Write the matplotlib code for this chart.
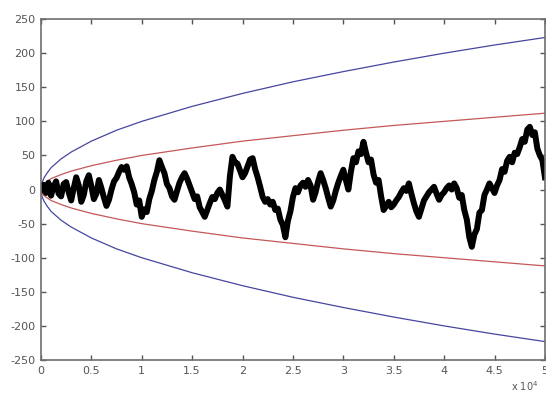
import matplotlib
matplotlib.use("Agg")
import matplotlib.pyplot as plt
import numpy as np

# random walk position, sampled every 250 steps
walk_step = 250
walk = [
    0, 7, -5, 10, -9, 4, 12, -6, -10, 8,
    11, -4, -16, 2, 18, 6, -18, -8, 12, 21,
    5, -14, -6, 14, 2, -12, -24, -15, 0, 12,
    17, 26, 33, 29, 34, 18, 8, -4, -22, -16,
    -40, -29, -33, -14, -2, 14, 26, 43, 33, 24,
    8, 2, -10, -15, -2, 10, 18, 24, 16, 6,
    -4, -14, -10, -26, -33, -40, -30, -20, -11, -14,
    -5, 0, -8, -16, -25, 20, 48, 40, 38, 28,
    18, 24, 34, 44, 46, 30, 18, 4, -11, -18,
    -14, -22, -18, -30, -28, -44, -52, -70, -46, -32,
    -11, 2, -4, 6, 10, 4, 14, 6, -15, -4,
    12, 24, 14, 2, -12, -25, -16, -2, 10, 20,
    29, 14, 0, 26, 46, 40, 56, 52, 70, 54,
    40, 44, 22, 10, 14, -10, -30, -24, -18, -26,
    -22, -16, -11, -4, 2, -2, 9, -6, -20, -32,
    -40, -28, -16, -10, -4, 0, 4, -6, -15, -8,
    -4, 2, 6, 0, 9, 2, -12, -8, -30, -44,
    -70, -84, -66, -58, -34, -30, -8, 0, 9, 2,
    -5, 6, 14, 30, 26, 42, 48, 40, 54, 52,
    62, 74, 70, 88, 92, 80, 84, 60, 50, 43,
    18,
]

# envelope curves (outer and inner)
env_x = [0, 100, 300, 600, 1000, 2000, 3000, 5000, 7500, 10000, 15000,
         20000, 25000, 30000, 35000, 40000, 45000, 50000]
outer = [0, 10, 17, 24, 32, 45, 55, 71, 87, 100, 122,
         141, 158, 173, 187, 200, 212, 223]
inner = [0, 5, 9, 12, 16, 22, 27, 35, 43, 50, 61,
         71, 79, 87, 94, 100, 106, 112]

xticks = [0, 5000, 10000, 15000, 20000, 25000, 30000, 35000, 40000, 45000, 50000]
xticklabels = ["0", "0.5", "1", "1.5", "2", "2.5", "3", "3.5", "4", "4.5", "5"]
yticks = [-250, -200, -150, -100, -50, 0, 50, 100, 150, 200, 250]

plt.rcParams["font.family"] = ["DejaVu Sans"]

fig = plt.figure(figsize=(5.46, 3.98), dpi=100)
ax = fig.add_axes([0.075, 0.0955, 0.923, 0.8565])

walk_x = np.arange(len(walk)) * walk_step
ex = np.array(env_x)

ax.plot(ex, outer, color="#4646a0", lw=0.9)
ax.plot(ex, -np.array(outer), color="#4646a0", lw=0.9)
ax.plot(ex, inner, color="#c45858", lw=0.9)
ax.plot(ex, -np.array(inner), color="#c45858", lw=0.9)
ax.plot(walk_x, walk, color="black", lw=4.3, solid_joinstyle="round")

ax.set_xlim(0, 50000)
ax.set_ylim(-250, 250)
ax.set_xticks(xticks)
ax.set_xticklabels(xticklabels)
ax.set_yticks(yticks)
ax.set_yticklabels([str(v) for v in yticks])

ax.tick_params(direction="in", length=3.5, width=1.0, colors="#555555",
               labelsize=8, top=True, right=True, pad=4)
for sp in ax.spines.values():
    sp.set_color("#6e6e6e")
    sp.set_linewidth(1.2)

fig.text(0.935, 0.018, r"x 10$^4$", fontsize=7, color="#555555")

fig.savefig("out.png", dpi=100, facecolor="white")
